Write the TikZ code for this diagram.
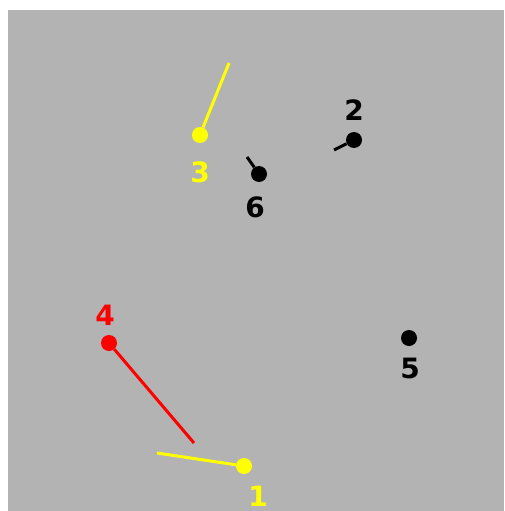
\documentclass[tikz,border=0pt]{standalone}
\usepackage{fontspec}
\setmainfont{DejaVu Sans}
\usetikzlibrary{positioning}
\definecolor{field}{RGB}{179,179,179}
\definecolor{botyellow}{RGB}{255,255,0}
\definecolor{botred}{RGB}{255,0,0}
\tikzset{robot/.style = {circle, fill=#1, inner sep=0pt, minimum size=16pt},
         heading/.style = {draw=#1, line width=3pt},
         botlabel/.style = {text=#1, inner sep=0pt,
                            font=\fontsize{28}{28}\selectfont\bfseries}}

\begin{document}
\begin{tikzpicture}[x=1pt, y=-1pt]
    \useasboundingbox (0, 0) rectangle (504, 511);
    \fill [field] (8, 10) rectangle (504, 511);

    \node (r1) [robot=botyellow] at (244, 466) {};
    \node (r2) [robot=black] at (354, 140) {};
    \node (r3) [robot=botyellow] at (200, 135) {};
    \node (r4) [robot=botred] at (109, 343) {};
    \node (r5) [robot=black] at (409, 338) {};
    \node (r6) [robot=black] at (259, 174) {};

    \coordinate (h1) at (157, 453);
    \coordinate (h2) at (334, 150);
    \coordinate (h3) at (229, 63);
    \coordinate (h4) at (194, 443);
    \coordinate (h6) at (247, 157);

    \draw [heading=botyellow] (r1) -- (h1);
    \draw [heading=black] (r2) -- (h2);
    \draw [heading=botyellow] (r3) -- (h3);
    \draw [heading=botred] (r4) -- (h4);
    \draw [heading=black] (r6) -- (h6);

    \node (l1) [botlabel=botyellow] at (258, 496) {1};
    \node (l2) [botlabel=black] at (354, 110) {2};
    \node (l3) [botlabel=botyellow] at (200, 172) {3};
    \node (l4) [botlabel=botred] at (105, 315) {4};
    \node (l5) [botlabel=black] at (410, 368) {5};
    \node (l6) [botlabel=black] at (255, 207) {6};
\end{tikzpicture}
\end{document}
